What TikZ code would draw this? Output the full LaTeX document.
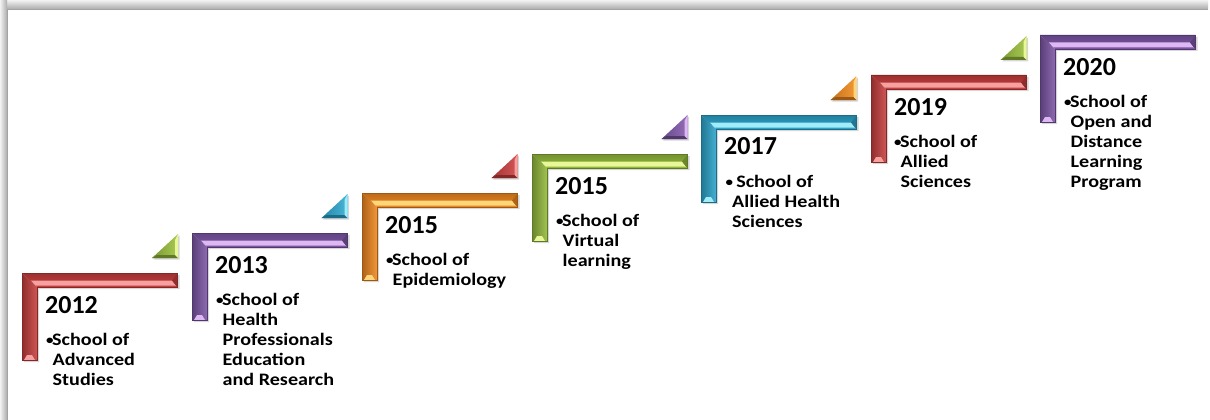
\documentclass[tikz,border=0pt]{standalone}
\usepackage{fontspec}
\setmainfont{Carlito}
\newfontfamily\bodyfont{Carlito}[FakeStretch=1.15]
\definecolor{cred}{RGB}{200,62,62}
\definecolor{lred}{RGB}{246,160,160}
\definecolor{cpur}{RGB}{125,86,166}
\definecolor{lpur}{RGB}{222,184,242}
\definecolor{cora}{RGB}{240,136,32}
\definecolor{lora}{RGB}{255,214,122}
\definecolor{cgrn}{RGB}{148,186,60}
\definecolor{lgrn}{RGB}{232,247,152}
\definecolor{ctea}{RGB}{44,164,204}
\definecolor{ltea}{RGB}{160,236,248}
\tikzset{
  yr/.style={font=\fontsize{26}{26}\selectfont\bfseries, inner sep=0pt, anchor=base west},
  bd/.style={font=\bodyfont\fontsize{17.5}{20}\selectfont\bfseries, inner sep=0pt, anchor=base west},
}
\newcommand\bul{\makebox[6pt][l]{\raisebox{1pt}{\fontsize{13}{13}\selectfont\textbullet}}}
\newcommand\ind{\hspace*{6.5pt}}
\newcommand\lbar[4]{%
\begin{scope}[shift={(#1,#2)}]
  \fill[black,opacity=.16] (2,2) -- (157.5,2) -- (157.5,16) -- (17,16) -- (17,89) -- (2,89) -- cycle;
  \shade[top color=#3!78!black, bottom color=#3] (0,0) -- (155.5,0) -- (155.5,14) -- (15,14) -- cycle;
  \shade[left color=#3!72!black, right color=#3!88!white] (0,0) -- (15,14) -- (15,87) -- (0,87) -- cycle;
  \fill[#4] (9,7.5) -- (150,7.5) -- (154,12.5) -- (13.5,12.5) -- cycle;
  \fill[#3!72!black] (150,7.5) -- (155.5,1) -- (155.5,14) -- (154,12.5) -- cycle;
  \fill[#4] (2,87) -- (13,87) -- (10,82) -- (5,82) -- cycle;
  \draw[#3!65!black, line width=.4pt] (0,0) -- (155.5,0) -- (155.5,14) -- (15,14) -- (15,87) -- (0,87) -- cycle;
\end{scope}}
\newcommand\tri[4]{%
\begin{scope}[shift={(#1,#2)}]
  \fill[black,opacity=.16] (1.5,1.5) -- (1.5,-22.5) -- (-24.5,1.5) -- cycle;
  \shade[left color=#3!82!black, right color=#3!75!#4] (0,0) -- (0,-24) -- (-26,0) -- cycle;
  \fill[#3!65!black] (0,0) -- (-26,0) -- (-21,-3) -- (-3,-3) -- cycle;
  \fill[#4] (0,-24) -- (-3,-18) -- (-3,-3) -- (0,0) -- cycle;
\end{scope}}
\begin{document}
\begin{tikzpicture}[x=1pt,y=-1pt]
\useasboundingbox (0,0) rectangle (1210,420);
% frame shadow
\shade[top color=gray!10, bottom color=gray!65] (0,0) rectangle (1208,9);
\fill[gray!72] (7,9) rectangle (1208,10);
\shade[left color=gray!10, right color=gray!65] (0,0) rectangle (7,420);
\fill[gray!72] (7,10) rectangle (8,420);
% bars
\lbar{22}{273}{cred}{lred}
\lbar{192}{233}{cpur}{lpur}
\lbar{362}{193}{cora}{lora}
\lbar{532}{154}{cgrn}{lgrn}
\lbar{701}{115}{ctea}{ltea}
\lbar{871}{75}{cred}{lred}
\lbar{1040}{35}{cpur}{lpur}
% triangles
\tri{178}{258}{cgrn}{lgrn}
\tri{347.5}{218}{ctea}{ltea}
\tri{517.5}{178}{cred}{lred}
\tri{687.5}{139}{cpur}{lpur}
\tri{856.5}{100}{cora}{lora}
\tri{1026.5}{60}{cgrn}{lgrn}
% texts
\node[yr] (y1) at (45,313) {2012};
\node[yr] (y2) at (215,273) {2013};
\node[yr] (y3) at (385,233) {2015};
\node[yr] (y4) at (555,194) {2015};
\node[yr] (y5) at (724,154.5) {2017};
\node[yr] (y6) at (894,115) {2019};
\node[yr] (y7) at (1063,75) {2020};
\node[bd] (b1) at (46,345.5) {\begin{tabular}[t]{@{}l@{}}\bul School of\\\ind Advanced\\\ind Studies\end{tabular}};
\node[bd] (b2) at (216,305.5) {\begin{tabular}[t]{@{}l@{}}\bul School of\\\ind Health\\\ind Professionals\\\ind Education\\\ind and Research\end{tabular}};
\node[bd] (b3) at (386,265.5) {\begin{tabular}[t]{@{}l@{}}\bul School of\\\ind Epidemiology\end{tabular}};
\node[bd] (b4) at (556,226.5) {\begin{tabular}[t]{@{}l@{}}\bul School of\\\ind Virtual\\\ind learning\end{tabular}};
\node[bd] (b5) at (725.5,187) {\begin{tabular}[t]{@{}l@{}}\bul\ School of\\\ind Allied Health\\\ind Sciences\end{tabular}};
\node[bd] (b6) at (894,147.5) {\begin{tabular}[t]{@{}l@{}}\bul School of\\\ind Allied\\\ind Sciences\end{tabular}};
\node[bd] (b7) at (1064,107.5) {\begin{tabular}[t]{@{}l@{}}\bul School of\\\ind Open and\\\ind Distance\\\ind Learning\\\ind Program\end{tabular}};
\end{tikzpicture}
\end{document}
